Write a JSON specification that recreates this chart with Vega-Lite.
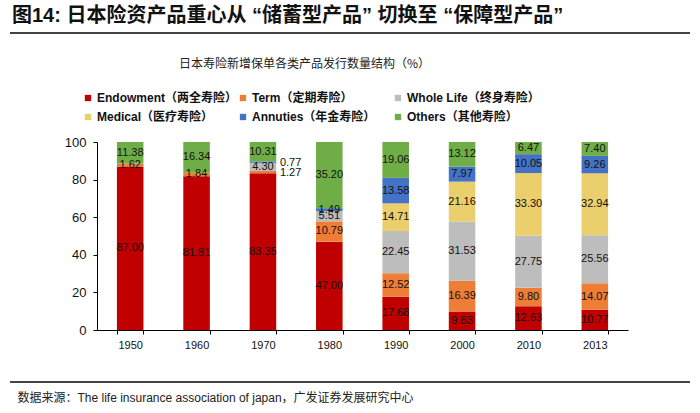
{
  "$schema": "https://vega.github.io/schema/vega-lite/v6.json",
  "autosize": {"type": "none"},
  "width": 531,
  "height": 188,
  "padding": {"left": 97, "top": 142, "right": 72, "bottom": 83},
  "background": "white",
  "config": {"view": {"stroke": null}, "font": "Liberation Sans, Noto Sans CJK SC", "axisY": {"labelOverlap": false}},
  "title": {
    "text": "图14: 日本险资产品重心从 “储蓄型产品” 切换至 “保障型产品”",
    "anchor": "start",
    "frame": "group",
    "orient": "top",
    "dx": -85,
    "fontSize": 20,
    "fontWeight": "bold",
    "font": "Liberation Sans, Noto Sans CJK SC",
    "color": "#111111",
    "offset": 6
  },
  "datasets": {
    "mix": [
      {"year": "1950", "cat": "Endowment（两全寿险）", "k": 1, "v": 87.00},
      {"year": "1950", "cat": "Term（定期寿险）", "k": 2, "v": 1.62},
      {"year": "1950", "cat": "Others（其他寿险）", "k": 6, "v": 11.38},
      {"year": "1960", "cat": "Endowment（两全寿险）", "k": 1, "v": 81.81},
      {"year": "1960", "cat": "Term（定期寿险）", "k": 2, "v": 1.84},
      {"year": "1960", "cat": "Others（其他寿险）", "k": 6, "v": 16.34},
      {"year": "1970", "cat": "Endowment（两全寿险）", "k": 1, "v": 83.35},
      {"year": "1970", "cat": "Term（定期寿险）", "k": 2, "v": 1.27},
      {"year": "1970", "cat": "Whole Life（终身寿险）", "k": 3, "v": 4.30},
      {"year": "1970", "cat": "Annuties（年金寿险）", "k": 5, "v": 0.77},
      {"year": "1970", "cat": "Others（其他寿险）", "k": 6, "v": 10.31},
      {"year": "1980", "cat": "Endowment（两全寿险）", "k": 1, "v": 47.00},
      {"year": "1980", "cat": "Term（定期寿险）", "k": 2, "v": 10.79},
      {"year": "1980", "cat": "Whole Life（终身寿险）", "k": 3, "v": 5.51},
      {"year": "1980", "cat": "Annuties（年金寿险）", "k": 5, "v": 1.49},
      {"year": "1980", "cat": "Others（其他寿险）", "k": 6, "v": 35.20},
      {"year": "1990", "cat": "Endowment（两全寿险）", "k": 1, "v": 17.68},
      {"year": "1990", "cat": "Term（定期寿险）", "k": 2, "v": 12.52},
      {"year": "1990", "cat": "Whole Life（终身寿险）", "k": 3, "v": 22.45},
      {"year": "1990", "cat": "Medical（医疗寿险）", "k": 4, "v": 14.71},
      {"year": "1990", "cat": "Annuties（年金寿险）", "k": 5, "v": 13.58},
      {"year": "1990", "cat": "Others（其他寿险）", "k": 6, "v": 19.06},
      {"year": "2000", "cat": "Endowment（两全寿险）", "k": 1, "v": 9.83},
      {"year": "2000", "cat": "Term（定期寿险）", "k": 2, "v": 16.39},
      {"year": "2000", "cat": "Whole Life（终身寿险）", "k": 3, "v": 31.53},
      {"year": "2000", "cat": "Medical（医疗寿险）", "k": 4, "v": 21.16},
      {"year": "2000", "cat": "Annuties（年金寿险）", "k": 5, "v": 7.97},
      {"year": "2000", "cat": "Others（其他寿险）", "k": 6, "v": 13.12},
      {"year": "2010", "cat": "Endowment（两全寿险）", "k": 1, "v": 12.63},
      {"year": "2010", "cat": "Term（定期寿险）", "k": 2, "v": 9.80},
      {"year": "2010", "cat": "Whole Life（终身寿险）", "k": 3, "v": 27.75},
      {"year": "2010", "cat": "Medical（医疗寿险）", "k": 4, "v": 33.30},
      {"year": "2010", "cat": "Annuties（年金寿险）", "k": 5, "v": 10.05},
      {"year": "2010", "cat": "Others（其他寿险）", "k": 6, "v": 6.47},
      {"year": "2013", "cat": "Endowment（两全寿险）", "k": 1, "v": 10.77},
      {"year": "2013", "cat": "Term（定期寿险）", "k": 2, "v": 14.07},
      {"year": "2013", "cat": "Whole Life（终身寿险）", "k": 3, "v": 25.56},
      {"year": "2013", "cat": "Medical（医疗寿险）", "k": 4, "v": 32.94},
      {"year": "2013", "cat": "Annuties（年金寿险）", "k": 5, "v": 9.26},
      {"year": "2013", "cat": "Others（其他寿险）", "k": 6, "v": 7.40}
    ]
  },
  "layer": [
    {
      "data": {"name": "mix"},
      "encoding": {
        "x": {
          "field": "year",
          "type": "ordinal",
          "scale": {"paddingInner": 0.6, "paddingOuter": 0.3},
          "axis": {
            "labelAngle": 0,
            "tickBand": "extent",
            "tickSize": 4,
            "tickColor": "#000000",
            "domainColor": "#000000",
            "labelFontSize": 11,
            "labelColor": "#111111",
            "labelPadding": 5,
            "title": "数据来源：The life insurance association of japan，广发证券发展研究中心",
            "titleX": -80,
            "titleY": 67,
            "titleAlign": "left",
            "titleBaseline": "middle",
            "titleFontSize": 12,
            "titleFontWeight": "normal",
            "titleColor": "#222222",
            "titleFont": "Liberation Sans, Noto Sans CJK SC"
          }
        },
        "y": {
          "field": "v",
          "type": "quantitative",
          "stack": "zero",
          "scale": {"domain": [0, 100], "nice": false},
          "axis": {
            "values": [0, 20, 40, 60, 80, 100],
            "labelOverlap": false,
            "grid": false,
            "domainColor": "#000000",
            "tickColor": "#000000",
            "tickSize": 4,
            "labelFontSize": 13,
            "labelColor": "#111111",
            "labelPadding": 7,
            "title": "日本寿险新增保单各类产品发行数量结构（%）",
            "titleAngle": 0,
            "titleX": 207,
            "titleY": -79,
            "titleAlign": "center",
            "titleBaseline": "middle",
            "titleFontSize": 12,
            "titleFontWeight": "normal",
            "titleColor": "#222222",
            "titleFont": "Noto Sans CJK SC"
          }
        },
        "order": {"field": "k", "type": "quantitative"}
      },
      "layer": [
        {
          "mark": {"type": "bar"},
          "encoding": {
            "color": {
              "field": "cat",
              "type": "nominal",
              "scale": {
                "domain": ["Endowment（两全寿险）", "Term（定期寿险）", "Whole Life（终身寿险）", "Medical（医疗寿险）", "Annuties（年金寿险）", "Others（其他寿险）"],
                "range": ["#C00000", "#EE7D35", "#BDBDBD", "#EBCF6C", "#4472C4", "#6FAD47"]
              },
              "legend": {
                "title": null,
                "orient": "none",
                "legendX": -15,
                "legendY": -50,
                "columns": 3,
                "direction": "horizontal",
                "gridAlign": "all",
                "columnPadding": -8,
                "rowPadding": 7,
                "padding": 0,
                "symbolType": "square",
                "symbolSize": 40,
                "symbolStrokeWidth": 0,
                "labelOffset": 3,
                "labelFontSize": 12,
                "labelFontWeight": "bold",
                "labelColor": "#111111",
                "labelFont": "Liberation Sans, Noto Sans CJK SC",
                "labelLimit": 200
              }
            }
          }
        },
        {
          "mark": {"type": "text", "fontSize": 11, "color": "#111111", "baseline": "middle"},
          "encoding": {
            "detail": {"field": "cat", "type": "nominal"},
            "y": {"field": "v", "type": "quantitative", "stack": "zero", "bandPosition": 0.5},
            "text": {"field": "v", "type": "quantitative", "format": ".2f"},
            "opacity": {
              "condition": {"test": "datum.year === '1970' && datum.v < 2", "value": 0},
              "value": 1
            }
          }
        },
        {
          "mark": {"type": "text", "fontSize": 11, "color": "#111111", "baseline": "middle", "align": "left", "dx": 17, "dy": 1},
          "encoding": {
            "detail": {"field": "cat", "type": "nominal"},
            "y": {"field": "v", "type": "quantitative", "stack": "zero", "bandPosition": 0.5},
            "text": {"field": "v", "type": "quantitative", "format": ".2f"},
            "opacity": {
              "condition": {"test": "datum.year === '1970' && datum.v < 2", "value": 1},
              "value": 0
            }
          }
        }
      ]
    },
    {
      "data": {"values": [{"line": "top"}]},
      "mark": {"type": "rule", "color": "#444444", "strokeWidth": 2},
      "encoding": {
        "x": {"datum": 0, "type": "quantitative", "scale": {"domain": [0, 1], "range": [-87, 593]}, "axis": null},
        "x2": {"datum": 1},
        "y": {"datum": 158, "type": "quantitative", "scale": {"domain": [0, 100], "nice": false}, "axis": null}
      }
    },
    {
      "data": {"values": [{"line": "bottom"}]},
      "mark": {"type": "rule", "color": "#444444", "strokeWidth": 2},
      "encoding": {
        "x": {"datum": 0, "type": "quantitative", "scale": {"domain": [0, 1], "range": [-87, 593]}, "axis": null},
        "x2": {"datum": 1},
        "y": {"datum": -27.7, "type": "quantitative", "scale": {"domain": [0, 100], "nice": false}, "axis": null}
      }
    }
  ],
  "resolve": {"scale": {"x": "independent", "y": "independent"}, "axis": {"x": "independent", "y": "independent"}}
}
